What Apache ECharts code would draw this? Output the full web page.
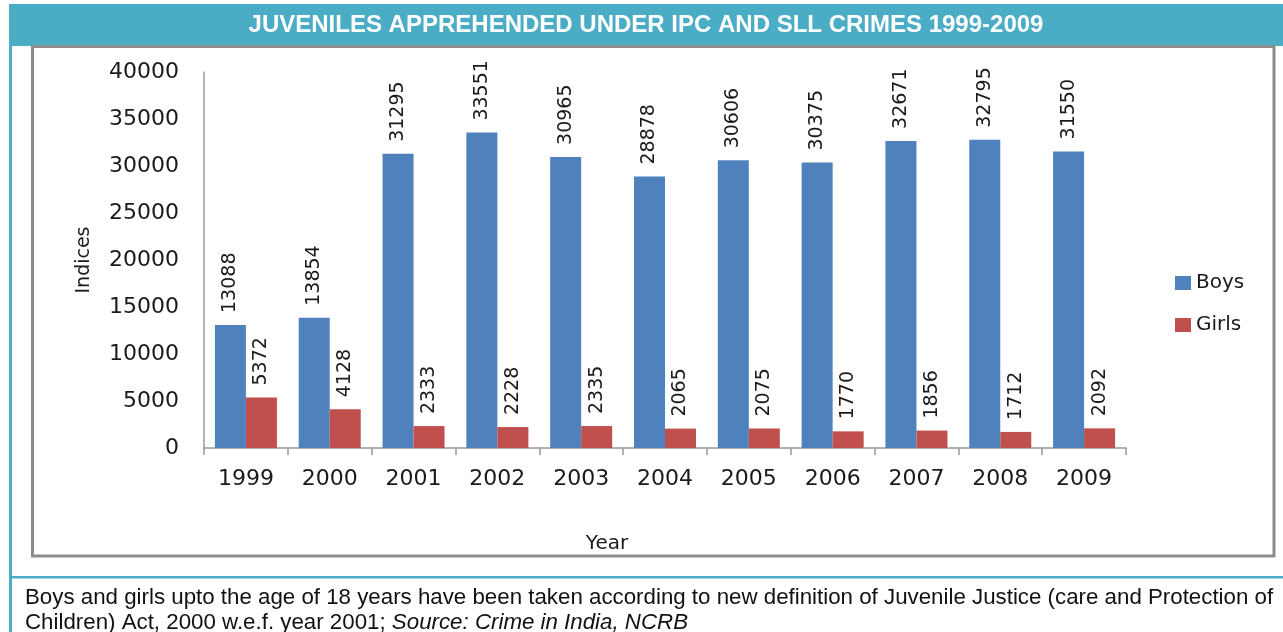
<!DOCTYPE html>
<html>
<head>
<meta charset="utf-8">
<script src="https://cdn.jsdelivr.net/npm/echarts@6/dist/echarts.min.js"></script>
<style>
html,body{margin:0;padding:0;background:#fff;}
#main{width:1283px;height:632px;}
</style>
</head>
<body>
<div id="main"></div>
<script>
const titleText = 'JUVENILES APPREHENDED UNDER IPC AND SLL CRIMES 1999-2009';
const years = ['1999','2000','2001','2002','2003','2004','2005','2006','2007','2008','2009'];
const boys = [13088, 13854, 31295, 33551, 30965, 28878, 30606, 30375, 32671, 32795, 31550];
const girls = [5372, 4128, 2333, 2228, 2335, 2065, 2075, 1770, 1856, 1712, 2092];
const seriesNames = ['Boys', 'Girls'];
const yAxisName = 'Indices';
const xAxisName = 'Year';
const noteLine1 = 'Boys and girls upto the age of 18 years have been taken according to new definition of Juvenile Justice (care and Protection of';
const noteLine2a = 'Children) Act, 2000 w.e.f. year 2001; ';
const noteLine2b = 'Source: Crime in India, NCRB';

const TEAL = '#4bacc6';
const FONT = 'DejaVu Sans';
const NOTEFONT = '"Liberation Sans", sans-serif';
const chart = echarts.init(document.getElementById('main'));

const labelCfg = {
  show: true, position: 'top', rotate: 90, align: 'left', verticalAlign: 'middle',
  distance: 12, color: '#1a1a1a', fontFamily: FONT, fontSize: 19
};

chart.setOption({
  animation: false,
  backgroundColor: '#fff',
  grid: { left: 204, right: 157, top: 72, bottom: 184, containLabel: false },
  legend: {
    orient: 'vertical', left: 1170, top: 268,
    itemWidth: 16, itemHeight: 14, itemGap: 22,
    icon: 'rect',
    textStyle: { fontFamily: FONT, fontSize: 20, color: '#1a1a1a' },
    data: seriesNames
  },
  xAxis: {
    type: 'category', data: years,
    name: xAxisName, nameLocation: 'middle', nameGap: 86,
    nameTextStyle: { fontFamily: FONT, fontSize: 20, color: '#1a1a1a', padding: [0, 116, 0, 0] },
    axisLine: { lineStyle: { color: '#999', width: 1.5 } },
    axisTick: { show: true, length: 7, lineStyle: { color: '#999', width: 1.5 } },
    axisLabel: { fontFamily: FONT, fontSize: 22, color: '#1a1a1a', margin: 20 }
  },
  yAxis: {
    type: 'value', min: 0, max: 40000, interval: 5000,
    name: yAxisName, nameLocation: 'middle', nameGap: 110, nameRotate: 90,
    nameTextStyle: { fontFamily: FONT, fontSize: 19, color: '#1a1a1a' },
    axisLine: { show: true, lineStyle: { color: '#999', width: 1.5 } },
    axisTick: { show: false },
    splitLine: { show: false },
    axisLabel: { fontFamily: FONT, fontSize: 22, color: '#1a1a1a', margin: 25,
      formatter: function (v) { return String(v); } }
  },
  series: [
    { name: seriesNames[0], type: 'bar', data: boys, barGap: '0%', barCategoryGap: '26%',
      itemStyle: { color: '#4f81bd' }, label: labelCfg },
    { name: seriesNames[1], type: 'bar', data: girls,
      itemStyle: { color: '#c0504d' }, label: labelCfg }
  ],
  graphic: [
    { type: 'rect', shape: { x: 9, y: 4, width: 1274, height: 42 }, style: { fill: TEAL }, z: 0 },
    { type: 'rect', shape: { x: 9, y: 46, width: 3, height: 586 }, style: { fill: TEAL } },
    { type: 'rect', shape: { x: 9, y: 576, width: 1274, height: 2.5 }, style: { fill: TEAL } },
    { type: 'rect', shape: { x: 32.5, y: 46.5, width: 1241.5, height: 509.5 },
      style: { fill: 'none', stroke: '#8c8c8c', lineWidth: 3 } },
    { type: 'text', x: 646, y: 25, style: { text: titleText, fill: '#fff',
      font: 'bold 24px ' + NOTEFONT, align: 'center', verticalAlign: 'middle' } },
    { type: 'text', x: 25, y: 598, style: { text: noteLine1, fill: '#111',
      font: '22.3px ' + NOTEFONT, align: 'left', verticalAlign: 'middle' } },
    { type: 'text', x: 25, y: 623, style: {
      text: '{n|' + noteLine2a + '}{i|' + noteLine2b + '}',
      align: 'left', verticalAlign: 'middle',
      rich: {
        n: { fontFamily: NOTEFONT, fontSize: 22.3, fill: '#111', color: '#111' },
        i: { fontFamily: NOTEFONT, fontSize: 22.3, fontStyle: 'italic', fill: '#111', color: '#111' }
      } } }
  ]
});
</script>
</body>
</html>
